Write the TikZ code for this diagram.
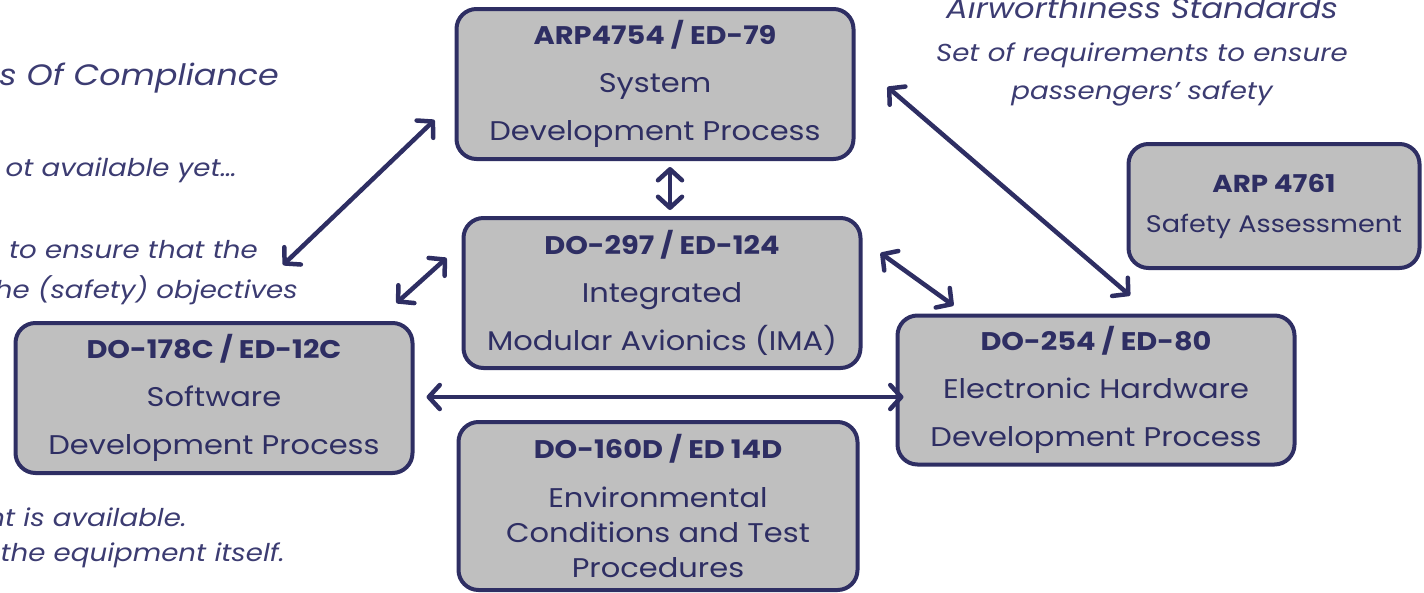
\documentclass[tikz,border=0pt]{standalone}
\usepackage{fontspec}
\setmainfont{Poppins}[FakeStretch=1.13]
\usepackage{tikz}
\usetikzlibrary{arrows.meta,positioning,calc}

\definecolor{navy}{HTML}{2E2E63}
\definecolor{boxgray}{HTML}{BFBFBF}
\definecolor{notetext}{HTML}{3C3C72}

\tikzset{
  stdbox/.style={draw=navy, fill=boxgray, line width=4pt, rounded corners=20pt,
    text=navy, align=center, inner sep=0pt,
    font=\fontsize{27}{48}\selectfont},
  link/.style={navy, line width=4.5pt, line cap=round,
    {Straight Barb[length=11pt,width=24pt,round]}-{Straight Barb[length=11pt,width=24pt,round]}},
  note/.style={text=notetext, font=\itshape\fontsize{24.5}{38}\selectfont, inner sep=0pt},
}
\newcommand{\hd}[1]{{\bfseries\fontsize{25.5}{48}\selectfont #1}}

\begin{document}
\begin{tikzpicture}[x=1pt,y=-1pt]
\useasboundingbox (0,0) rectangle (1424,592);

% standards
\node[stdbox, minimum width=397pt, minimum height=150pt] (arp) at (655,84)
  {\hd{ARP4754 / ED-79}\\System\\Development Process};
\node[stdbox, minimum width=397pt, minimum height=150pt] (ima) at (662,293)
  {\hd{DO-297 / ED-124}\\Integrated\\Modular Avionics (IMA)};
\node[stdbox, minimum width=397pt, minimum height=150pt] (sw) at (214,398)
  {\hd{DO-178C / ED-12C}\\Software\\Development Process};
\node[stdbox, minimum width=397pt, minimum height=149pt] (hw) at (1096,390)
  {\hd{DO-254 / ED-80}\\Electronic Hardware\\Development Process};
\node[stdbox, minimum width=399pt, minimum height=168pt, font=\fontsize{27}{35}\selectfont] (env) at (658,506)
  {{\bfseries\fontsize{25.5}{35}\selectfont DO-160D / ED 14D}\\[14pt]Environmental\\Conditions and Test\\Procedures};
\node[stdbox, minimum width=291pt, minimum height=124pt, font=\fontsize{24}{40}\selectfont] (safety) at (1274,206)
  {{\bfseries\fontsize{24.5}{40}\selectfont ARP 4761}\\Safety Assessment};

% notes
\node[note, anchor=east, font=\itshape\fontsize{29.5}{38}\selectfont] (moc) at (279,78) {s Of Compliance};
\node[note, anchor=east] (notyet) at (237,170) {ot available yet\ldots};
\node[note, anchor=east] (ensure) at (258,250) {to ensure that the};
\node[note, anchor=east] (safetyobj) at (298,290) {he (safety) objectives};
\node[note, anchor=east] (avail) at (187,517) {nt is available.};
\node[note, anchor=east] (equip) at (285,555) {the equipment itself.};
\node[note, font=\itshape\fontsize{28.5}{38}\selectfont] (aws) at (1142,8) {Airworthiness Standards};
\node[note, align=center] (req) at (1142,74) {Set of requirements to ensure\\passengers’ safety};

% links
\draw[link] ([shift={(15,6)}]arp.south) -- ([shift={(8,-6)}]ima.north);
\draw[link] ([shift={(-20,36)}]arp.west) -- ([shift={(25,15)}]ensure.east);
\draw[link] ([shift={(-15,-35)}]ima.west) -- ([shift={(-18,-18)}]sw.north east);
\draw[link] ([shift={(18,-40)}]ima.east) -- ([shift={(58,-8)}]hw.north west);
\draw[link] ([shift={(32,3)}]arp.east) -- ([shift={(34,-18)}]hw.north);
\draw[link] ([shift={(12,-1)}]sw.east) -- ([shift={(8,7)}]hw.west);
\end{tikzpicture}
\end{document}
